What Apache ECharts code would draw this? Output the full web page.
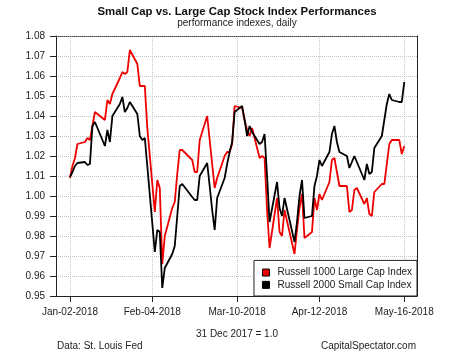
<!DOCTYPE html>
<html><head><meta charset="utf-8">
<script src="https://cdn.jsdelivr.net/npm/echarts@6/dist/echarts.min.js"></script>
<style>html,body{margin:0;padding:0;background:#fff}#c{width:474px;height:355px}</style>
</head><body><div id="c"></div>
<script>
// trading days, Jan 2 - May 16 2018
const dates = [
 '2018-01-02','2018-01-03','2018-01-04','2018-01-05','2018-01-08','2018-01-09','2018-01-10','2018-01-11','2018-01-12','2018-01-16','2018-01-17','2018-01-18','2018-01-19','2018-01-22','2018-01-23','2018-01-24','2018-01-25','2018-01-26','2018-01-29','2018-01-30','2018-01-31',
 '2018-02-01','2018-02-02','2018-02-05','2018-02-06','2018-02-07','2018-02-08','2018-02-09','2018-02-12','2018-02-13','2018-02-14','2018-02-15','2018-02-16','2018-02-20','2018-02-21','2018-02-22','2018-02-23','2018-02-26','2018-02-27','2018-02-28',
 '2018-03-01','2018-03-02','2018-03-05','2018-03-06','2018-03-07','2018-03-08','2018-03-09','2018-03-12','2018-03-13','2018-03-14','2018-03-15','2018-03-16','2018-03-19','2018-03-20','2018-03-21','2018-03-22','2018-03-23','2018-03-26','2018-03-27','2018-03-28','2018-03-29',
 '2018-04-02','2018-04-03','2018-04-04','2018-04-05','2018-04-06','2018-04-09','2018-04-10','2018-04-11','2018-04-12','2018-04-13','2018-04-16','2018-04-17','2018-04-18','2018-04-19','2018-04-20','2018-04-23','2018-04-24','2018-04-25','2018-04-26','2018-04-27','2018-04-30',
 '2018-05-01','2018-05-02','2018-05-03','2018-05-04','2018-05-07','2018-05-08','2018-05-09','2018-05-10','2018-05-11','2018-05-14','2018-05-15','2018-05-16'
];
const russell1000 = [
 1.009,1.015,1.019,1.026,1.027,1.029,1.028,1.035,1.042,1.038,1.048,1.046,1.051,1.059,1.062,1.061,1.062,1.073,1.066,1.055,1.055,
 1.055,1.034,0.992,1.008,1.004,0.966,0.980,0.994,0.997,1.011,1.023,1.023,1.018,1.012,1.012,1.028,1.040,1.028,1.016,
 1.004,1.009,1.020,1.022,1.022,1.026,1.045,1.044,1.038,1.033,1.030,1.034,1.019,1.020,1.019,0.993,0.974,0.999,0.982,0.980,0.993,
 0.971,0.983,0.994,1.001,0.979,0.982,0.999,0.993,1.001,0.998,1.007,1.018,1.019,1.012,1.005,1.005,0.992,0.993,1.003,1.004,0.996,
 0.999,0.991,0.990,1.002,1.006,1.006,1.016,1.026,1.028,1.028,1.021,1.025
];
const russell2000 = [
 1.0095,1.012,1.015,1.0165,1.017,1.0155,1.016,1.035,1.037,1.025,1.033,1.027,1.040,1.046,1.0495,1.042,1.044,1.047,1.041,1.030,1.028,
 1.029,1.015,0.972,0.983,0.982,0.954,0.964,0.971,0.975,0.990,1.005,1.006,0.9995,0.998,0.998,1.010,1.0165,1.005,0.993,
 0.983,0.999,1.009,1.016,1.022,1.027,1.042,1.045,1.038,1.030,1.035,1.032,1.026,1.027,1.031,1.010,0.987,1.007,0.994,0.990,0.999,
 0.977,0.987,1.000,1.008,0.989,0.990,1.005,1.010,1.018,1.015,1.022,1.031,1.035,1.027,1.022,1.020,1.014,1.017,1.020,1.017,1.008,
 1.016,1.011,1.012,1.024,1.030,1.038,1.046,1.051,1.048,1.047,1.047,1.057
];
const seriesNames = ['Russell 1000 Large Cap Index','Russell 2000 Small Cap Index'];
const xTickDates = ['2018-01-02','2018-02-04','2018-03-10','2018-04-12','2018-05-16'];
const xTickLabels = ['Jan-02-2018','Feb-04-2018','Mar-10-2018','Apr-12-2018','May-16-2018'];

function ts(s){const p=s.split('-');return Date.UTC(+p[0],+p[1]-1,+p[2]);}
const DAY=86400000;
const tickTs = xTickDates.map(ts);
const xMin = tickTs[0]-5.6*DAY, xMax = tickTs[tickTs.length-1]+5.1*DAY;
const FONT = '"Liberation Sans", Arial, sans-serif';

const chart = echarts.init(document.getElementById('c'), null, {renderer:'canvas'});
chart.setOption({
  animation:false,
  backgroundColor:'#fff',
  textStyle:{fontFamily:FONT},
  title:[
    {text:'Small Cap vs. Large Cap Stock Index Performances', subtext:'performance indexes, daily',
     left:'center', top:6, itemGap:1, padding:0,
     textStyle:{fontFamily:FONT,fontSize:11.4,fontWeight:'bold',color:'#111'},
     subtextStyle:{fontFamily:FONT,fontSize:10,color:'#222'}},
    {text:'31 Dec 2017 = 1.0', left:'center', top:329, padding:0,
     textStyle:{fontFamily:FONT,fontSize:10,fontWeight:'normal',color:'#222'}},
    {text:'Data: St. Louis Fed', left:57, top:341, padding:0,
     textStyle:{fontFamily:FONT,fontSize:10,fontWeight:'normal',color:'#222'}},
    {text:'CapitalSpectator.com', right:58, top:341, padding:0,
     textStyle:{fontFamily:FONT,fontSize:10,fontWeight:'normal',color:'#222'}}
  ],
  grid:{left:56, right:57, top:36, bottom:59},
  legend:{
    data:seriesNames, orient:'vertical', right:57, bottom:59,
    backgroundColor:'#fff', borderColor:'#222', borderWidth:1, borderRadius:0,
    padding:[6,5,5,8], itemGap:0, itemWidth:7, itemHeight:7, icon:'rect',
    itemStyle:{borderColor:'#000', borderWidth:1},
    textStyle:{fontFamily:FONT,fontSize:10,color:'#222',lineHeight:12.3,padding:[0,0,0,3]}
  },
  xAxis:[
    {type:'value', min:xMin, max:xMax,
     axisLine:{show:true,lineStyle:{color:'#222',width:1}},
     axisTick:{show:true,customValues:tickTs,length:6,lineStyle:{color:'#222'}},
     axisLabel:{customValues:tickTs,fontFamily:FONT,fontSize:10,color:'#222',margin:11,
       formatter:function(v){let b=-1,bd=Infinity;tickTs.forEach((t,i)=>{const d=Math.abs(t-v);if(d<bd){bd=d;b=i;}});return xTickLabels[b];}},
     splitLine:{show:true,lineStyle:{color:'#c4c4c4',type:'dotted',width:1}}},
    {type:'value', position:'top', min:xMin, max:xMax,
     axisLine:{show:true,lineStyle:{color:'#444',type:'dotted',width:1}},
     axisTick:{show:false}, axisLabel:{show:false}, splitLine:{show:false}}
  ],
  yAxis:[
    {type:'value', min:0.95, max:1.08, interval:0.01,
     axisLine:{show:true,lineStyle:{color:'#222',width:1}},
     axisTick:{show:true,length:6,lineStyle:{color:'#222'}},
     axisLabel:{fontFamily:FONT,fontSize:10,color:'#222',margin:11,formatter:function(v){return v.toFixed(2);}},
     splitLine:{show:true,lineStyle:{color:'#c4c4c4',type:'dotted',width:1}}},
    {type:'value', position:'right', min:0.95, max:1.08,
     axisLine:{show:true,lineStyle:{color:'#222',width:1}},
     axisTick:{show:false}, axisLabel:{show:false}, splitLine:{show:false}}
  ],
  series:[
    {name:seriesNames[0], type:'line', xAxisIndex:0, yAxisIndex:0, showSymbol:false,
     color:'#ee0000', lineStyle:{width:1.8,color:'#ee0000'},
     data:dates.map((d,i)=>[ts(d),russell1000[i]])},
    {name:seriesNames[1], type:'line', xAxisIndex:0, yAxisIndex:0, showSymbol:false,
     color:'#000', lineStyle:{width:1.8,color:'#000'},
     data:dates.map((d,i)=>[ts(d),russell2000[i]])}
  ]
});
</script></body></html>
